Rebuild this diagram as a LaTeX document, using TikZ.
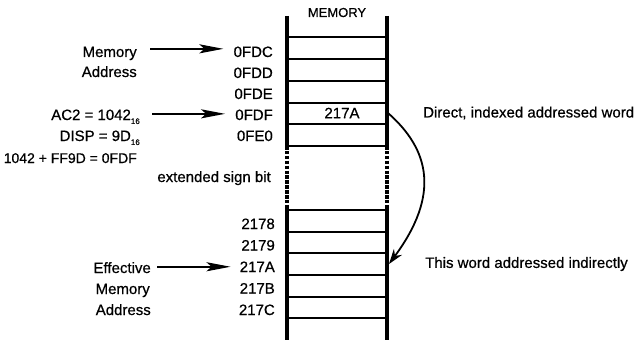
\documentclass[tikz,border=0pt]{standalone}
\usepackage{fontspec}
\setmainfont{Liberation Sans}[FakeBold=0.6]
\usetikzlibrary{arrows.meta,positioning}

% small lowered base index, as in 1042 with base 16
\newcommand{\hexsub}[1]{\raisebox{-0.5ex}{\fontsize{8}{9}\selectfont #1}}

\begin{document}
\begin{tikzpicture}[
    x=1pt, y=-1pt,
    font=\fontsize{15}{18}\selectfont,
    txt/.style={anchor=base east, inner sep=1pt},
    note/.style={anchor=west, inner sep=1pt},
    wall/.style={line width=3.2pt},
    wallgap/.style={line width=3.2pt, dash pattern=on 3.5pt off 1.4pt},
    rung/.style={line width=2pt},
    pointer/.style={line width=2.2pt, -{Stealth[length=24pt, width=9pt, inset=5pt]}},
    indirect/.style={line width=1.8pt, -{Stealth[length=15pt, width=10pt]}}
]
\useasboundingbox (0,0) rectangle (636,342);

% memory column
\node[font=\fontsize{13}{15}\selectfont, anchor=base] (title) at (337,17) {MEMORY};
\foreach \x in {287,387} {
  \draw[wall] (\x,16) -- (\x,146);
  \draw[wallgap] (\x,146) -- (\x,208);
  \draw[wall] (\x,208) -- (\x,340);
}
\foreach \y in {37,59,81,103,124,146,210,232,253,275,297,318}
  \draw[rung] (287,\y) -- (387,\y);

% addresses
\foreach \a [count=\i] in {0FDC,0FDD,0FDE,0FDF,0FE0}
  \node[txt] (u\i) at (274,36+21*\i) {\a};
\foreach \a [count=\i] in {2178,2179,217A,217B,217C}
  \node[txt] (l\i) at (276,207.5+21.5*\i) {\a};

\node (word) at (342,113) {217A};
\coordinate (src) at (388,113);
\coordinate (dst) at (389,264);

% left side labels
\node[txt] (mem1) at (138,57) {Memory};
\node[txt] (adr1) at (138,77) {Address};
\node[txt] (ac2) at (141,120) {AC2 = 1042\hexsub{16}};
\node[txt] (disp) at (141,141) {DISP = 9D\hexsub{16}};
\node[txt, font=\fontsize{14}{17}\selectfont] (sum) at (138,163) {1042 + FF9D = 0FDF};
\node[txt] (sign) at (272,182) {extended sign bit};
\node[txt] (eff) at (152,273) {Effective};
\node[txt] (mem2) at (151,294) {Memory};
\node[txt] (adr2) at (152,315) {Address};

% right side notes
\node[note] (direct) [right=34pt of src] {Direct, indexed addressed word};
\node[note] (indir) [right=35pt of dst] {This word addressed indirectly};

% arrows
\path ([yshift=3pt]u1.west) coordinate (t1);
\path ([yshift=1pt]u4.west) coordinate (t4);
\draw[pointer, shorten <=12pt, shorten >=9pt] (t1 -| mem1.east) -- (t1);
\draw[pointer, shorten <=11pt, shorten >=9pt] (t4 -| ac2.east) -- (t4);
\draw[pointer, shorten <=5pt, shorten >=8pt] (l3.west -| eff.east) -- (l3.west);
\draw[indirect] (src) .. controls (430,150) and (440,195) .. (dst);
\end{tikzpicture}
\end{document}
